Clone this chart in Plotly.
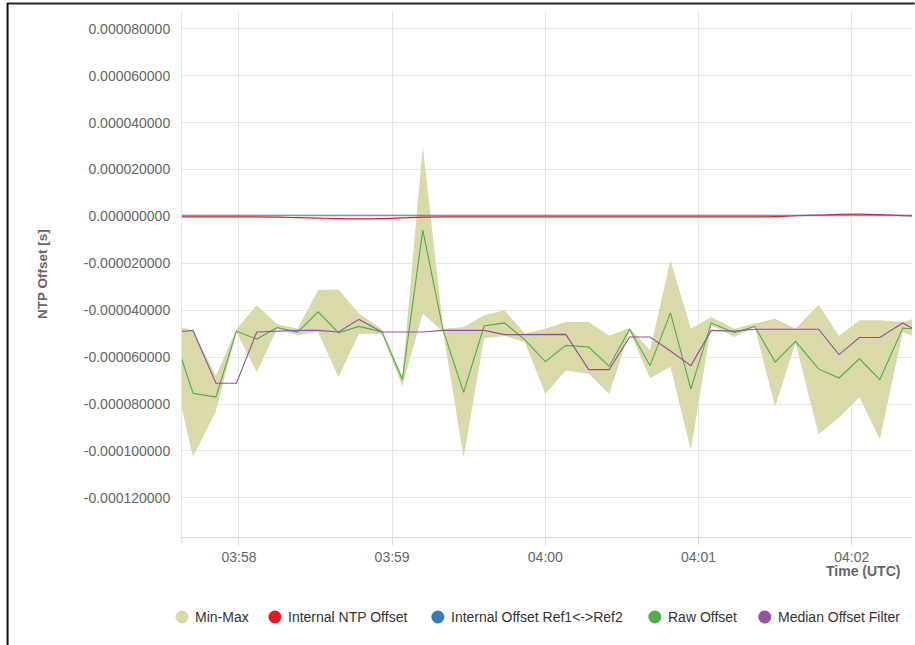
import plotly.graph_objects as go

# Sample timestamps (UTC)
times = ["03:57:34", "03:57:42", "03:57:51", "03:57:59", "03:58:07", "03:58:15",
         "03:58:23", "03:58:31", "03:58:39", "03:58:47", "03:58:56", "03:59:04",
         "03:59:12", "03:59:20", "03:59:28", "03:59:36", "03:59:44", "03:59:52",
         "04:00:00", "04:00:08", "04:00:17", "04:00:25", "04:00:33", "04:00:41",
         "04:00:49", "04:00:57", "04:01:05", "04:01:14", "04:01:22", "04:01:30",
         "04:01:38", "04:01:47", "04:01:55", "04:02:03", "04:02:11", "04:02:20",
         "04:02:28"]
day = "2020-01-01"

# Offsets in seconds
offset_max = [-46.3e-6, -48.6e-6, -67.9e-6, -48.1e-6, -37.9e-6, -46.0e-6, -47.9e-6, -31.4e-6,
              -31.1e-6, -41.4e-6, -48.1e-6, -68.0e-6, 30.1e-6, -47.9e-6, -47.1e-6, -42.1e-6,
              -40.0e-6, -50.0e-6, -47.9e-6, -45.0e-6, -45.0e-6, -50.9e-6, -47.6e-6, -57.1e-6,
              -18.7e-6, -47.9e-6, -42.9e-6, -47.9e-6, -45.7e-6, -43.6e-6, -47.9e-6, -37.6e-6,
              -51.0e-6, -44.3e-6, -44.3e-6, -45.0e-6, -42.4e-6]
offset_min = [-64.7e-6, -102.5e-6, -82.9e-6, -49.3e-6, -66.4e-6, -47.9e-6, -50.7e-6, -49.3e-6,
              -68.6e-6, -50.0e-6, -50.0e-6, -72.3e-6, -41.4e-6, -49.3e-6, -102.9e-6, -51.9e-6,
              -51.0e-6, -53.6e-6, -75.7e-6, -65.7e-6, -67.1e-6, -75.7e-6, -49.0e-6, -69.0e-6,
              -64.1e-6, -99.6e-6, -46.4e-6, -51.4e-6, -47.1e-6, -81.1e-6, -53.9e-6, -92.9e-6,
              -85.7e-6, -77.1e-6, -95.0e-6, -49.3e-6, -53.1e-6]
raw_offset = [-48.9e-6, -75.4e-6, -77.0e-6, -48.9e-6, -52.3e-6, -47.4e-6, -49.3e-6, -40.7e-6,
              -49.6e-6, -46.9e-6, -49.3e-6, -69.5e-6, -5.8e-6, -48.6e-6, -75.0e-6, -46.7e-6,
              -45.4e-6, -52.6e-6, -61.9e-6, -55.0e-6, -55.7e-6, -63.9e-6, -48.1e-6, -63.6e-6,
              -41.1e-6, -73.6e-6, -45.4e-6, -49.6e-6, -46.9e-6, -62.1e-6, -53.3e-6, -65.0e-6,
              -68.9e-6, -60.7e-6, -69.6e-6, -47.6e-6, -48.2e-6]
median_offset = [-49.4e-6, -48.6e-6, -71.1e-6, -71.1e-6, -49.3e-6, -48.9e-6, -48.6e-6, -48.6e-6,
                 -49.3e-6, -43.9e-6, -49.3e-6, -49.3e-6, -49.3e-6, -48.6e-6, -48.6e-6, -48.6e-6,
                 -50.4e-6, -50.4e-6, -50.3e-6, -50.3e-6, -65.3e-6, -65.3e-6, -51.4e-6, -51.4e-6,
                 -57.4e-6, -63.6e-6, -48.6e-6, -48.9e-6, -48.1e-6, -48.1e-6, -48.1e-6, -48.1e-6,
                 -58.9e-6, -51.6e-6, -51.6e-6, -45.4e-6, -50.3e-6]
internal_ntp = [-0.2e-6, -0.2e-6, -0.2e-6, -0.2e-6, -0.2e-6, -0.3e-6, -0.5e-6, -0.7e-6,
                -0.9e-6, -1.0e-6, -0.9e-6, -0.6e-6, -0.3e-6, -0.2e-6, -0.2e-6, -0.2e-6,
                -0.2e-6, -0.2e-6, -0.2e-6, -0.2e-6, -0.2e-6, -0.2e-6, -0.2e-6, -0.2e-6,
                -0.2e-6, -0.2e-6, -0.2e-6, -0.2e-6, -0.2e-6, -0.1e-6, 0.3e-6, 0.6e-6,
                0.9e-6, 1.0e-6, 0.8e-6, 0.4e-6, 0.1e-6]
internal_ref = [0.5e-6] * len(times)

y_ticks = [0.00008, 0.00006, 0.00004, 0.00002, 0.0, -0.00002, -0.00004, -0.00006,
           -0.00008, -0.0001, -0.00012]
y_tick_text = [f"{v:.9f}" for v in y_ticks]
x_ticks = ["03:58", "03:59", "04:00", "04:01", "04:02"]

x = [f"{day} {t}" for t in times]

BAND = "#d9d9aa"
RED = "#e41a1c"
BLUE = "#377eb8"
GREEN = "#4daf4a"
PURPLE = "#984ea3"
FONT = "Liberation Sans, Arial, sans-serif"

legend_names = ["Min-Max", "Internal NTP Offset", "Internal Offset Ref1<->Ref2",
                "Raw Offset", "Median Offset Filter"]
legend_colors = [BAND, RED, BLUE, GREEN, PURPLE]
legend_symbol_px = [182, 275, 438, 655, 765]   # symbol centres along the legend row

fig = go.Figure()
fig.add_trace(go.Scatter(x=x, y=offset_max, mode="lines", line=dict(width=0),
                         name="Min-Max", hoverinfo="skip"))
fig.add_trace(go.Scatter(x=x, y=offset_min, mode="lines", line=dict(width=0),
                         fill="tonexty", fillcolor=BAND, name="Min-Max", hoverinfo="skip"))
fig.add_trace(go.Scatter(x=x, y=internal_ntp, mode="lines",
                         line=dict(color=RED, width=1.2, shape="spline"),
                         name="Internal NTP Offset"))
fig.add_trace(go.Scatter(x=x, y=internal_ref, mode="lines", line=dict(color=BLUE, width=1.1),
                         name="Internal Offset Ref1<->Ref2"))
fig.add_trace(go.Scatter(x=x, y=raw_offset, mode="lines", line=dict(color=GREEN, width=1.1),
                         name="Raw Offset"))
fig.add_trace(go.Scatter(x=x, y=median_offset, mode="lines", line=dict(color=PURPLE, width=1.1),
                         name="Median Offset Filter"))

fig.update_layout(
    width=915, height=645,
    margin=dict(l=182, r=3, t=12, b=108),
    paper_bgcolor="white", plot_bgcolor="white",
    font=dict(family=FONT, size=14, color="#666666"),
    showlegend=False,
    hovermode=False,
)

fig.update_xaxes(
    type="date",
    range=[f"{day} 03:57:37.7", f"{day} 04:02:23.6"],
    tickvals=[f"{day} {t}" for t in x_ticks], ticktext=x_ticks,
    showgrid=True, gridcolor="#e6e6e6", gridwidth=1,
    showline=True, linecolor="#d8d8d8", linewidth=1,
    ticks="outside", ticklen=7, tickcolor="#d8d8d8",
    tickfont=dict(size=14, color="#666666"),
    zeroline=False, fixedrange=True,
)
fig.update_yaxes(
    range=[-0.0001367, 0.0000872],
    tickvals=y_ticks, ticktext=y_tick_text,
    showgrid=True, gridcolor="#e6e6e6", gridwidth=1,
    showline=True, linecolor="#e6e6e6", linewidth=1,
    ticks="outside", ticklen=8, tickcolor="rgba(0,0,0,0)",
    tickfont=dict(size=14, color="#666666"),
    zeroline=False, fixedrange=True,
)

pw, ph = 730.3, 525.0   # plot area size in px


def px_x(px):
    return (px - 182) / pw


def px_y(py):
    return (537 - py) / ph


# axis titles
fig.add_annotation(text="<b>NTP Offset [s]</b>", xref="paper", yref="paper",
                   x=px_x(42), y=px_y(274), xanchor="center", yanchor="middle",
                   textangle=-90, showarrow=False,
                   font=dict(family=FONT, size=13.5, color="#666666"))
fig.add_annotation(text="<b>Time (UTC)</b>", xref="paper", yref="paper",
                   x=px_x(902), y=px_y(571), xanchor="right", yanchor="middle",
                   showarrow=False, font=dict(family=FONT, size=14, color="#666666"))

# legend row below the chart
legend_y = px_y(617)
for name, col, cx in zip(legend_names, legend_colors, legend_symbol_px):
    fig.add_shape(type="circle", xref="paper", yref="paper",
                  xsizemode="pixel", ysizemode="pixel",
                  xanchor=px_x(cx), yanchor=legend_y,
                  x0=-6.5, x1=6.5, y0=-6.5, y1=6.5,
                  fillcolor=col, line=dict(width=0))
    fig.add_annotation(text=name, xref="paper", yref="paper",
                       x=px_x(cx + 11), y=legend_y, xanchor="left", yanchor="middle",
                       showarrow=False, font=dict(family=FONT, size=14, color="#333333"))

# frame lines along the top and left edges of the page
fig.add_shape(type="line", xref="paper", yref="paper",
              x0=px_x(7), x1=px_x(915), y0=px_y(3.5), y1=px_y(3.5),
              line=dict(color="#222222", width=2))
fig.add_shape(type="line", xref="paper", yref="paper",
              x0=px_x(7.5), x1=px_x(7.5), y0=px_y(3), y1=px_y(645),
              line=dict(color="#111111", width=2))
# tick mark at the left end of the time axis
fig.add_shape(type="line", xref="paper", yref="paper", x0=0, x1=0, y0=0, y1=-7 / ph,
              line=dict(color="#d8d8d8", width=1))

fig.write_html("out.html")
